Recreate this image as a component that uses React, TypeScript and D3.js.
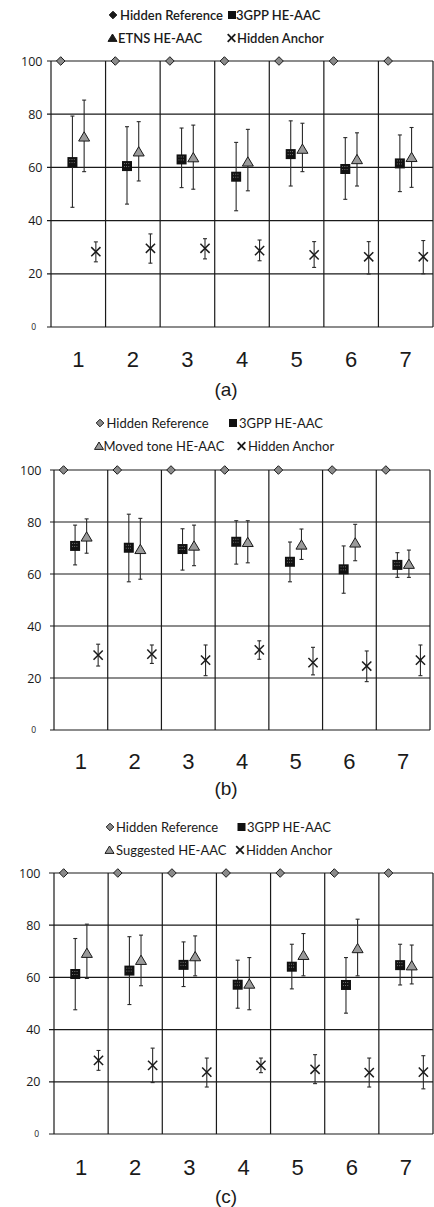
import React from 'react';
import * as d3 from 'd3';

// ---------- data ----------
const categories = ['1', '2', '3', '4', '5', '6', '7'];
const yTicks = [0, 20, 40, 60, 80, 100];
const seriesKeys = ['ref', 'gpp', 'test', 'anchor'];

const hiddenRef = [100, 100, 100, 100, 100, 100, 100];

// panel (a)
const gppA_mean = [62, 60.5, 63, 56.5, 65, 59.4, 61.5];
const gppA_lo = [45, 46.2, 52.4, 43.7, 53, 48, 50.9];
const gppA_hi = [79.3, 75.3, 74.8, 69.4, 77.5, 71.2, 72.2];
const etnsA_mean = [71.5, 65.9, 63.7, 62.1, 66.9, 63, 63.8];
const etnsA_lo = [58.4, 54.9, 51.8, 51.2, 58.4, 53, 52.5];
const etnsA_hi = [85.3, 77.2, 75.9, 74.3, 76.6, 73, 75];
const anchorA_mean = [28.3, 29.6, 29.6, 28.7, 27.1, 26.4, 26.4];
const anchorA_lo = [24.5, 24, 25.6, 24.9, 22.4, 19.9, 20];
const anchorA_hi = [32, 35, 33.2, 32.7, 32.1, 32.1, 32.5];

// panel (b)
const gppB_mean = [70.8, 70.1, 69.6, 72.4, 64.7, 61.8, 63.5];
const gppB_lo = [63.5, 57, 61.5, 63.8, 57, 52.6, 58.7];
const gppB_hi = [78.8, 83, 77.4, 80.5, 72.3, 70.8, 68.2];
const movedB_mean = [74.3, 69.5, 70.8, 72.2, 71.2, 72, 63.8];
const movedB_lo = [68, 58, 63.2, 64.3, 65.6, 65.1, 58.7];
const movedB_hi = [81.2, 81.4, 78.8, 80.5, 77.3, 79.1, 69.2];
const anchorB_mean = [28.8, 29.2, 26.9, 30.8, 25.9, 24.6, 26.9];
const anchorB_lo = [24.6, 25.6, 20.9, 27.2, 21.2, 18.6, 20.9];
const anchorB_hi = [33, 32.7, 32.7, 34.3, 31.8, 30.4, 32.7];

// panel (c)
const gppC_mean = [61.3, 62.6, 64.8, 57.2, 64.1, 57.1, 64.7];
const gppC_lo = [47.6, 49.6, 56.5, 48.2, 55.6, 46.3, 57.1];
const gppC_hi = [74.9, 75.6, 73.6, 66.6, 72.7, 67.6, 72.7];
const sugC_mean = [69.3, 66.6, 68, 57.5, 68.5, 71.1, 64.5];
const sugC_lo = [59.6, 56.8, 60.6, 47.6, 60.6, 60.6, 57.5];
const sugC_hi = [80.4, 76.2, 75.9, 67.6, 76.8, 82.3, 72.4];
const anchorC_mean = [28.2, 26.3, 23.7, 26.3, 24.8, 23.5, 23.7];
const anchorC_lo = [24.4, 19.7, 18, 23.5, 19.3, 18, 17.3];
const anchorC_hi = [32, 32.9, 29.1, 29.1, 30.4, 29.1, 30];

type Series = { mean: number[]; lo?: number[]; hi?: number[] };

type PanelCfg = {
  caption: string;
  testName: string;
  series: Record<string, Series>;
  top: number; bottom: number; left: number; right: number;
  legendRows: [number, number];
  legend: { marker: string; mx: number; tx: number; row: number; label: string }[];
  catY: number; capY: number; labelRight: number; zeroRight: number; tickLen: number;
  solidLegend: boolean;
};

const panels: PanelCfg[] = [
  {
    caption: '(a)', testName: 'ETNS HE-AAC',
    series: {
      ref: { mean: hiddenRef },
      gpp: { mean: gppA_mean, lo: gppA_lo, hi: gppA_hi },
      test: { mean: etnsA_mean, lo: etnsA_lo, hi: etnsA_hi },
      anchor: { mean: anchorA_mean, lo: anchorA_lo, hi: anchorA_hi },
    },
    top: 61, bottom: 327, left: 51, right: 433,
    legendRows: [15, 38],
    legend: [
      { marker: 'ref', mx: 113, tx: 120, row: 0, label: 'Hidden Reference' },
      { marker: 'gpp', mx: 232, tx: 236, row: 0, label: '3GPP HE-AAC' },
      { marker: 'test', mx: 112.5, tx: 118, row: 1, label: 'ETNS HE-AAC' },
      { marker: 'anchor', mx: 231.5, tx: 237, row: 1, label: 'Hidden Anchor' },
    ],
    catY: 367, capY: 396, labelRight: 42.5, zeroRight: 36, tickLen: 4, solidLegend: true,
  },
  {
    caption: '(b)', testName: 'Moved tone HE-AAC',
    series: {
      ref: { mean: hiddenRef },
      gpp: { mean: gppB_mean, lo: gppB_lo, hi: gppB_hi },
      test: { mean: movedB_mean, lo: movedB_lo, hi: movedB_hi },
      anchor: { mean: anchorB_mean, lo: anchorB_lo, hi: anchorB_hi },
    },
    top: 470, bottom: 730, left: 54, right: 430,
    legendRows: [423, 446],
    legend: [
      { marker: 'ref', mx: 100, tx: 106.5, row: 0, label: 'Hidden Reference' },
      { marker: 'gpp', mx: 233, tx: 239, row: 0, label: '3GPP HE-AAC' },
      { marker: 'test', mx: 99, tx: 103.5, row: 1, label: 'Moved tone HE-AAC' },
      { marker: 'anchor', mx: 241.5, tx: 248, row: 1, label: 'Hidden Anchor' },
    ],
    catY: 769, capY: 795, labelRight: 41.5, zeroRight: 36, tickLen: 4, solidLegend: false,
  },
  {
    caption: '(c)', testName: 'Suggested HE-AAC',
    series: {
      ref: { mean: hiddenRef },
      gpp: { mean: gppC_mean, lo: gppC_lo, hi: gppC_hi },
      test: { mean: sugC_mean, lo: sugC_lo, hi: sugC_hi },
      anchor: { mean: anchorC_mean, lo: anchorC_lo, hi: anchorC_hi },
    },
    top: 873, bottom: 1134, left: 54, right: 433,
    legendRows: [827, 850],
    legend: [
      { marker: 'ref', mx: 110, tx: 116, row: 0, label: 'Hidden Reference' },
      { marker: 'gpp', mx: 241.5, tx: 247, row: 0, label: '3GPP HE-AAC' },
      { marker: 'test', mx: 109.5, tx: 116, row: 1, label: 'Suggested HE-AAC' },
      { marker: 'anchor', mx: 240, tx: 246, row: 1, label: 'Hidden Anchor' },
    ],
    catY: 1175, capY: 1203, labelRight: 40.5, zeroRight: 39, tickLen: 5, solidLegend: false,
  },
];

const INK = '#1a1a1a';

function Marker({ kind, x, y, solid, legend }: { kind: string; x: number; y: number; solid?: boolean; legend?: boolean }) {
  if (kind === 'ref') {
    const r = legend ? 3.8 : 4.3;
    return (
      <path d={`M${x},${y - r}L${x + r},${y}L${x},${y + r}L${x - r},${y}Z`}
        fill={solid ? INK : '#8a8a8a'} stroke={INK} strokeWidth={1} />
    );
  }
  if (kind === 'gpp') {
    const s = legend ? 8 : 10;
    return (
      <g>
        <rect x={x - s / 2} y={y - s / 2} width={s} height={s} fill="#111" />
        {!legend && (
          <g stroke="#bbb" strokeWidth={0.7} strokeDasharray="0.8,1.4">
            <line x1={x - 3} x2={x + 3} y1={y - 2.5} y2={y - 2.5} />
            <line x1={x - 3} x2={x + 3} y1={y + 0.5} y2={y + 0.5} />
          </g>
        )}
      </g>
    );
  }
  if (kind === 'test') {
    const w = legend ? 4.5 : 5.5;
    const h = legend ? 4 : 5;
    return (
      <path d={`M${x},${y - h}L${x + w},${y + h * 0.85}L${x - w},${y + h * 0.85}Z`}
        fill={solid ? INK : '#9a9a9a'} stroke={INK} strokeWidth={1} />
    );
  }
  const r = legend ? 3.8 : 4.6;
  return (
    <g stroke={INK} strokeWidth={legend ? 1.8 : 1.5}>
      <line x1={x - r} y1={y - r} x2={x + r} y2={y + r} />
      <line x1={x - r} y1={y + r} x2={x + r} y2={y - r} />
    </g>
  );
}

function Panel({ cfg }: { cfg: PanelCfg }) {
  const x = d3.scaleBand<string>().domain(categories).range([cfg.left, cfg.right]).padding(0);
  const y = d3.scaleLinear().domain([0, 100]).range([cfg.bottom, cfg.top]);
  const sx = d3.scalePoint<string>().domain(seriesKeys).range([0, x.bandwidth()]).padding(0.83);
  const boundaries = categories.map((c) => x(c) as number).concat([cfg.right]);

  return (
    <g>
      {/* legend */}
      {cfg.legend.map((l, i) => {
        const ly = cfg.legendRows[l.row];
        return (
          <g key={i}>
            <Marker kind={l.marker} x={l.mx} y={ly} solid={cfg.solidLegend} legend />
            <text x={l.tx} y={ly} dy="0.36em" fontFamily="Lato, 'Open Sans', sans-serif" fontSize={13}
              fill={INK} fontWeight={cfg.solidLegend ? 600 : 400}>{l.label}</text>
          </g>
        );
      })}

      {/* grid */}
      {yTicks.map((t) => (
        <line key={'h' + t} x1={cfg.left - cfg.tickLen} x2={cfg.right} y1={y(t)} y2={y(t)} stroke={INK} strokeWidth={1.2} />
      ))}
      {boundaries.map((bx, i) => (
        <line key={'v' + i} x1={bx} x2={bx} y1={y(100)} y2={y(0)} stroke={INK} strokeWidth={1.2} />
      ))}

      {/* y tick labels */}
      {yTicks.map((t) => (
        <text key={'yl' + t} x={t === 0 ? cfg.zeroRight : cfg.labelRight} y={y(t)} dy="0.36em" textAnchor="end"
          fontFamily="'Open Sans', sans-serif" fontSize={t === 0 ? 8.5 : 12.5} fill={INK}>{t}</text>
      ))}

      {/* category labels */}
      {categories.map((c) => (
        <text key={'c' + c} x={(x(c) as number) + x.bandwidth() / 2} y={cfg.catY} textAnchor="middle"
          fontFamily="'Liberation Sans', Arial, sans-serif" fontSize={22} fill={INK}>{c}</text>
      ))}

      {/* error bars */}
      {seriesKeys.map((k) => {
        const s = cfg.series[k];
        if (!s.lo || !s.hi) return null;
        return categories.map((c, i) => {
          const cx = (x(c) as number) + (sx(k) as number);
          const y1 = y(s.hi![i]);
          const y2 = y(s.lo![i]);
          return (
            <g key={'e' + k + c} stroke="#2a2a2a" strokeWidth={1.1}>
              <line x1={cx} x2={cx} y1={y1} y2={y2} />
              <line x1={cx - 2} x2={cx + 2} y1={y1} y2={y1} />
              <line x1={cx - 2} x2={cx + 2} y1={y2} y2={y2} />
            </g>
          );
        });
      })}

      {/* markers */}
      {seriesKeys.map((k) =>
        categories.map((c, i) => (
          <Marker key={'m' + k + c} kind={k} x={(x(c) as number) + (sx(k) as number)} y={y(cfg.series[k].mean[i])} />
        ))
      )}

      {/* caption */}
      <text x={226} y={cfg.capY} textAnchor="middle" fontFamily="'Liberation Sans', Arial, sans-serif"
        fontSize={19} fill={INK}>{cfg.caption}</text>
    </g>
  );
}

export default function App() {
  return (
    <svg width={434} height={1207} viewBox="0 0 434 1207"
      style={{ position: 'absolute', left: 0, top: 0, background: '#fff' }}>
      <rect width={434} height={1207} fill="#fff" />
      {panels.map((p) => (
        <Panel key={p.caption} cfg={p} />
      ))}
    </svg>
  );
}
